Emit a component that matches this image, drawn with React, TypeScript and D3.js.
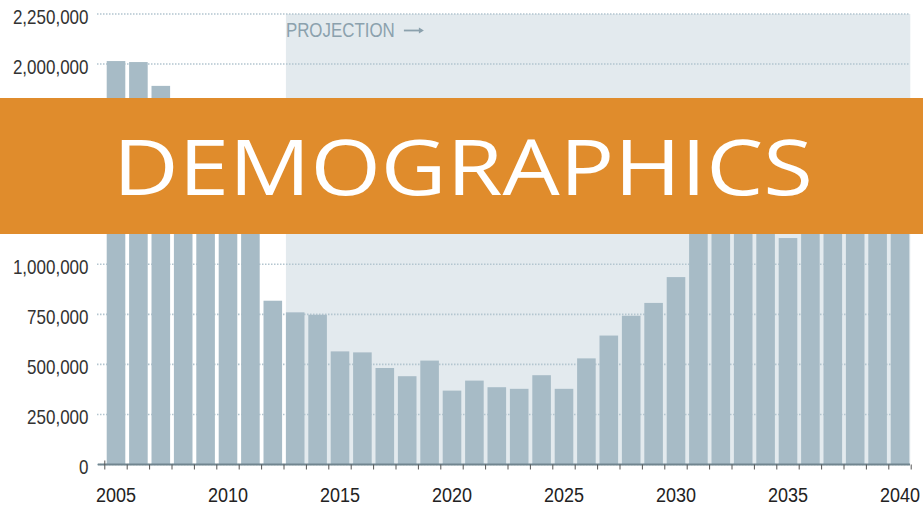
import React from "react";
import * as d3 from "d3";

const years: string[] = d3.range(2005, 2041).map(String);
const values: number[] = [
  2015000, 2010000, 1891000, 1760000, 1680000, 1590000, 1500000, 818000,
  760000, 748000, 565000, 560000, 482000, 441000, 519000, 369000,
  419000, 386000, 378000, 446000, 378000, 530000, 644000, 743000,
  807000, 936000, 1250000, 1300000, 1280000, 1230000, 1131000, 1200000,
  1260000, 1300000, 1320000, 1350000,
];
const yTicks: number[] = [0, 250000, 500000, 750000, 1000000, 1250000, 1500000, 1750000, 2000000, 2250000];
const xLabelYears: string[] = ["2005", "2010", "2015", "2020", "2025", "2030", "2035", "2040"];
const projectionStart = "2013";
const bannerTitle = "DEMOGRAPHICS";
const projectionLabel = "PROJECTION";

const W = 923;
const H = 508;

export default function App() {
  const x = d3.scaleBand<string>().domain(years).range([104.8, 911.2]).paddingInner(0.17).paddingOuter(0.085);
  const y = d3.scaleLinear().domain([0, 2250000]).range([464.5, 14]);
  const step = x.step();
  const gap = step * 0.17;
  const fmt = d3.format(",");
  const font = "'Liberation Sans', Arial, sans-serif";

  const boundaries = years.map((yr) => (x(yr) as number) - gap / 2);
  boundaries.push((x(years[years.length - 1]) as number) + x.bandwidth() + gap / 2);

  const projX0 = x(projectionStart) as number;
  const projX1 = (x(years[years.length - 1]) as number) + x.bandwidth() + 1;

  return (
    <svg width={W} height={H} style={{ position: "absolute", left: 0, top: 0, background: "#fff" }}>
      <rect x={projX0} y={y(2250000)} width={projX1 - projX0} height={y(0) - y(2250000)} fill="#e3eaee" />
      {yTicks.map((t) => (
        <line key={"g" + t} x1={97} x2={910} y1={y(t)} y2={y(t)} stroke="#b3c5cf" strokeWidth={1.6} strokeDasharray="1.5,1.5" />
      ))}
      {years.map((yr, i) => (
        <rect key={yr} x={x(yr)} y={y(values[i])} width={x.bandwidth()} height={y(0) - y(values[i])} fill="#a7bbc6" />
      ))}
      <line x1={98} x2={910} y1={y(0)} y2={y(0)} stroke="#71858f" strokeWidth={2} />
      {boundaries.map((bx, i) => (
        <line key={"t" + i} x1={bx} x2={bx} y1={y(0) - (i === 0 ? 4 : 0)} y2={y(0) + 5} stroke="#555" strokeWidth={1} />
      ))}
      {yTicks.map((t) => (
        <text key={"yl" + t} transform={`translate(88.5,${y(t) + 2.5}) scale(1,1.2)`} textAnchor="end" dy="0.35em" fontFamily={font} fontSize={17} fill="#333">
          {fmt(t)}
        </text>
      ))}
      {xLabelYears.map((yr) => (
        <text key={"xl" + yr} transform={`translate(${(x(yr) as number) + x.bandwidth() / 2},${494.5}) scale(1,1.15)`} textAnchor="middle" dy="0.35em" fontFamily={font} fontSize={18} fill="#222">
          {yr}
        </text>
      ))}
      <g transform={`translate(${projX0},36.5) scale(1,1.2)`}>
        <text x={0} y={0} fontFamily={font} fontSize={16.9} fill="#8ba1ad">
          {projectionLabel}
        </text>
        <line x1={118} x2={136} y1={-5} y2={-5} stroke="#8ba1ad" strokeWidth={1.5} />
        <path d="M 133 -7.5 L 138 -5 L 133 -2.5 Z" fill="#8ba1ad" />
      </g>
      <rect x={0} y={98} width={W} height={136} fill="#e08c2c" />
      <text x={113} y={195} fontFamily="'Open Sans', 'Noto Sans', sans-serif" fontSize={77} fill="#fff" textLength={700} lengthAdjust="spacingAndGlyphs">
        {bannerTitle}
      </text>
    </svg>
  );
}
